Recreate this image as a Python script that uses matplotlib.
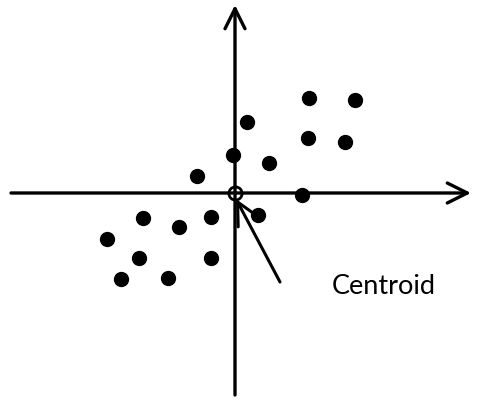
import matplotlib
matplotlib.use("Agg")
import matplotlib.pyplot as plt

# data points (centered at centroid)
xs = [74, 120, 12, 73, 110, -2, 34, -38, 67, 23, -24, -92, -56, -128, -96, -24, -114, -67]
ys = [95, 93, 71, 55, 51, 38, 30, 17, -2, -22, -24, -25, -34, -46, -65, -65, -86, -85]
centroid = (0, 0)
label = "Centroid"

fig = plt.figure(figsize=(4.81, 4.05), dpi=100)
ax = fig.add_axes([0, 0, 1, 1])
ax.set_xlim(-235, 246)
ax.set_ylim(-212, 193)
ax.axis("off")

# axes with open arrowheads
arrow_kw = dict(arrowstyle="->", lw=2.4, color="black", mutation_scale=36, shrinkA=0, shrinkB=0)
ax.annotate("", xy=(236, 0), xytext=(-224, 0), arrowprops=arrow_kw)
ax.annotate("", xy=(0, 188), xytext=(0, -202), arrowprops=arrow_kw)

ax.plot(xs, ys, "o", color="black", markersize=10, zorder=3)
ax.plot([centroid[0]], [centroid[1]], "o", markerfacecolor="none", markeredgecolor="black",
        markersize=9.5, markeredgewidth=2.0, zorder=4)

ax.annotate("", xy=(1, -6), xytext=(45, -89),
            arrowprops=dict(arrowstyle="->", lw=2.2, color="black", mutation_scale=40,
                            shrinkA=0, shrinkB=0))
ax.text(97, -93, label, fontsize=19.5, family="Lato", va="center", ha="left")

fig.savefig("out.png", dpi=100)
